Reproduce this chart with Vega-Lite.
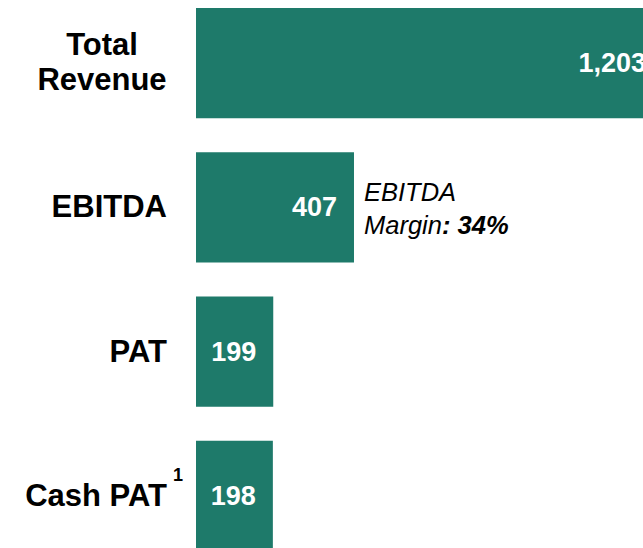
{
  "$schema": "https://vega.github.io/schema/vega-lite/v6.json",
  "autosize": "none",
  "width": 467,
  "height": 559,
  "padding": {"left": 196, "top": 0, "right": 0, "bottom": 0},
  "background": "white",
  "config": {"view": {"stroke": null}, "font": "Liberation Sans", "text": {"lineBreak": "\n"}},
  "data": {"values": [
    {"metric": "Total Revenue", "label": "Total\nRevenue", "value": 1203, "text": "1,203"},
    {"metric": "EBITDA", "label": "EBITDA", "value": 407, "text": "407"},
    {"metric": "PAT", "label": "PAT", "value": 199, "text": "199"},
    {"metric": "Cash PAT", "label": "Cash PAT", "value": 198, "text": "198"}
  ]},
  "encoding": {
    "y": {"field": "metric", "type": "nominal", "sort": null, "axis": null,
          "scale": {"paddingInner": 0.236, "paddingOuter": 0.0555}}
  },
  "layer": [
    {
      "mark": {"type": "bar", "color": "#1E7A6A"},
      "encoding": {
        "x": {"field": "value", "type": "quantitative", "axis": null,
              "scale": {"domain": [0, 1203], "nice": false, "zero": true}}
      }
    },
    {
      "mark": {"type": "text", "align": "right", "baseline": "middle", "dx": -17, "dy": 1, "fontSize": 27, "fontWeight": "bold", "color": "white"},
      "encoding": {
        "x": {"field": "value", "type": "quantitative"},
        "text": {"field": "text"}
      }
    },
    {
      "transform": [{"filter": "datum.metric === 'Total Revenue'"}],
      "mark": {"type": "text", "align": "center", "baseline": "middle", "dx": -94, "dy": -17, "fontSize": 31, "fontWeight": "bold", "color": "black", "lineHeight": 35},
      "encoding": {
        "x": {"datum": 0, "type": "quantitative"},
        "text": {"field": "label"}
      }
    },
    {
      "transform": [{"filter": "datum.metric !== 'Total Revenue'"}],
      "mark": {"type": "text", "align": "right", "baseline": "middle", "dx": -29, "dy": 1, "fontSize": 31, "fontWeight": "bold", "color": "black"},
      "encoding": {
        "x": {"datum": 0, "type": "quantitative"},
        "text": {"field": "label"}
      }
    },
    {
      "transform": [{"filter": "datum.metric === 'Cash PAT'"}],
      "mark": {"type": "text", "align": "left", "baseline": "middle", "dx": -23, "dy": -20, "fontSize": 18, "fontWeight": "bold", "color": "black"},
      "encoding": {
        "x": {"datum": 0, "type": "quantitative"},
        "text": {"value": "1"}
      }
    },
    {
      "transform": [{"filter": "datum.metric === 'EBITDA'"}],
      "mark": {"type": "text", "align": "left", "baseline": "middle", "dx": 10, "dy": -14, "fontSize": 25.5, "fontStyle": "italic", "color": "black"},
      "encoding": {
        "x": {"field": "value", "type": "quantitative"},
        "text": {"value": "EBITDA"}
      }
    },
    {
      "transform": [{"filter": "datum.metric === 'EBITDA'"}],
      "mark": {"type": "text", "align": "left", "baseline": "middle", "dx": 10, "dy": 19, "fontSize": 25.5, "fontStyle": "italic", "color": "black"},
      "encoding": {
        "x": {"field": "value", "type": "quantitative"},
        "text": {"value": "Margin"}
      }
    },
    {
      "transform": [{"filter": "datum.metric === 'EBITDA'"}],
      "mark": {"type": "text", "align": "left", "baseline": "middle", "dx": 88, "dy": 19, "fontSize": 25.5, "fontStyle": "italic", "fontWeight": "bold", "color": "black"},
      "encoding": {
        "x": {"field": "value", "type": "quantitative"},
        "text": {"value": ": 34%"}
      }
    }
  ]
}
